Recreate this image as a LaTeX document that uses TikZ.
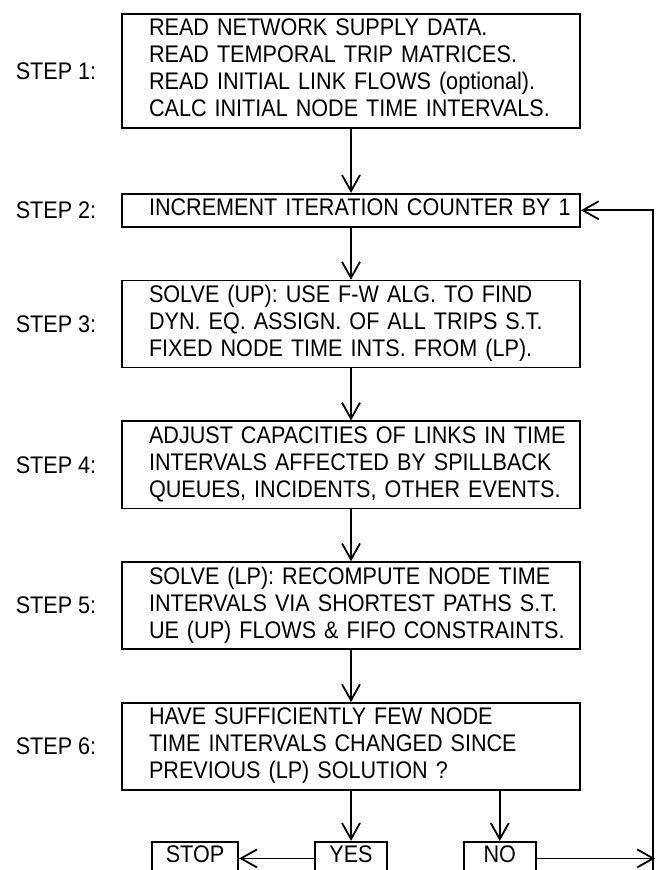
\documentclass[tikz,border=0pt]{standalone}
\usepackage{fontspec}
\setmainfont{Liberation Sans}[FakeStretch=0.9]
\usepackage{tikz}
\usetikzlibrary{arrows.meta,positioning}
\tikzset{
every picture/.style={
line width=0.9pt
},
process/.style={
  draw, rectangle, align=left,
  text width=221pt, inner xsep=4pt, inner ysep=1.5pt,
  font=\fontsize{12}{13.5}\selectfont,
  execute at begin node={\leftskip=9.5pt\relax\strut},
  execute at end node=\strut
},
answer/.style={
  draw, rectangle, minimum width=36pt,
  inner xsep=7pt, inner ysep=1.5pt,
  text height=8.6pt, text depth=5pt,
  font=\fontsize{12}{13.5}\selectfont
},
steplabel/.style={
  inner sep=0pt,
  font=\fontsize{12}{13.5}\selectfont
},
>={Straight Barb[length=8pt,width=9pt]}
}

\begin{document}
\begin{tikzpicture}[x=0.5pt,y=-0.5pt]
  \useasboundingbox (0,0) rectangle (656,870);

  \node [process] (b1) at (351,71) {READ NETWORK SUPPLY DATA.\\READ TEMPORAL TRIP MATRICES.\\READ INITIAL LINK FLOWS (optional).\\CALC INITIAL NODE TIME INTERVALS.};
  \node [process, below=32pt of b1] (b2) {INCREMENT ITERATION COUNTER BY 1};
  \node [process, below=26pt of b2] (b3) {SOLVE (UP): USE F-W ALG. TO FIND\\DYN. EQ. ASSIGN. OF ALL TRIPS S.T.\\FIXED NODE TIME INTS. FROM (LP).};
  \node [process, below=26pt of b3] (b4) {ADJUST CAPACITIES OF LINKS IN TIME\\INTERVALS AFFECTED BY SPILLBACK\\QUEUES, INCIDENTS, OTHER EVENTS.};
  \node [process, below=26pt of b4] (b5) {SOLVE (LP): RECOMPUTE NODE TIME\\INTERVALS VIA SHORTEST PATHS S.T.\\UE (UP) FLOWS \& FIFO CONSTRAINTS.};
  \node [process, below=26pt of b5] (b6) {HAVE SUFFICIENTLY FEW NODE\\TIME INTERVALS CHANGED SINCE\\PREVIOUS (LP) SOLUTION ?};

  \node [steplabel, left=12pt of b1] (s1) {STEP 1:};
  \node [steplabel, left=12pt of b2] (s2) {STEP 2:};
  \node [steplabel, left=12pt of b3] (s3) {STEP 3:};
  \node [steplabel, left=12pt of b4] (s4) {STEP 4:};
  \node [steplabel, left=12pt of b5] (s5) {STEP 5:};
  \node [steplabel, left=12pt of b6] (s6) {STEP 6:};

  \node [answer, below=25pt of b6] (yes) {YES};
  \node [answer, left=37.5pt of yes] (stop) {STOP};
  \node [answer, right=37.5pt of yes] (no) {NO};

  \coordinate (edge) at (655,870);
  \coordinate (loop) at (653,870);

  \draw [->] (b1) -- (b2);
  \draw [->] (b2) -- (b3);
  \draw [->] (b3) -- (b4);
  \draw [->] (b4) -- (b5);
  \draw [->] (b5) -- (b6);
  \draw [->] (b6) -- (yes);
  \draw [->] (b6.south -| no) -- (no);
  \draw [->] (yes) -- (stop);
  \draw [->] (no) -- (no -| edge);
  \draw [->] (loop) |- (b2);
\end{tikzpicture}
\end{document}
